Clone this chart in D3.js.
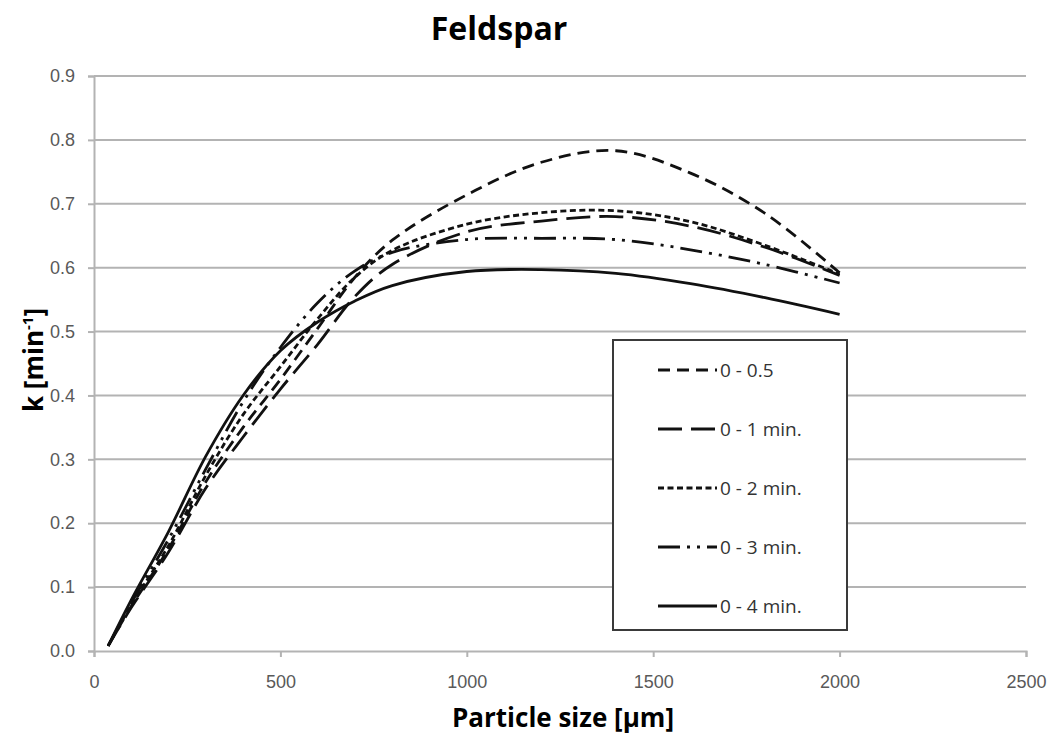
<!DOCTYPE html>
<html>
<head>
<meta charset="utf-8">
<script src="https://cdn.jsdelivr.net/npm/d3@7"></script>
<style>
  body { margin: 0; background: #fff; }
  svg { font-family: "Open Sans", "DejaVu Sans", sans-serif; }
  .tick text { fill: #595959; font-size: 18px; }
</style>
</head>
<body>
<svg id="chart" width="1057" height="738"></svg>
<script>
// particle size sample points (µm)
var sizes = [38, 100, 200, 300, 400, 500, 600, 700, 800, 1000, 1200, 1400, 1600, 1800, 2000];

// k values for each grinding interval
var k05 = [0.008, 0.07, 0.16, 0.265, 0.35, 0.425, 0.505, 0.585, 0.643, 0.714, 0.765, 0.783, 0.748, 0.685, 0.592];
var k1  = [0.008, 0.068, 0.155, 0.255, 0.335, 0.41, 0.48, 0.555, 0.605, 0.656, 0.673, 0.680, 0.665, 0.632, 0.588];
var k2  = [0.008, 0.072, 0.165, 0.275, 0.37, 0.445, 0.52, 0.585, 0.627, 0.668, 0.686, 0.689, 0.672, 0.635, 0.590];
var k3  = [0.008, 0.075, 0.175, 0.285, 0.39, 0.475, 0.545, 0.595, 0.624, 0.644, 0.646, 0.644, 0.628, 0.605, 0.576];
var k4  = [0.008, 0.08, 0.187, 0.305, 0.40, 0.47, 0.515, 0.548, 0.572, 0.594, 0.597, 0.591, 0.575, 0.553, 0.527];

var seriesNames = ["0 - 0.5", "0 - 1 min.", "0 - 2 min.", "0 - 3 min.", "0 - 4 min."];
var seriesValues = [k05, k1, k2, k3, k4];

var xTicks = [0, 500, 1000, 1500, 2000, 2500];
var yTicks = [0, 0.1, 0.2, 0.3, 0.4, 0.5, 0.6, 0.7, 0.8, 0.9];

(function () {
    var dashes = ["12,7", "24,9", "6,3.5", "22,7,3,7,3,7", null];

    var svg = d3.select("#chart");
    var plotL = 94, plotR = 1026, plotT = 76, plotB = 651;

    var x = d3.scaleLinear().domain([0, 2500]).range([plotL, plotR]);
    var y = d3.scaleLinear().domain([0, 0.9]).range([plotB, plotT]);

    // horizontal gridlines
    svg.append("g")
        .selectAll("line")
        .data(yTicks.slice(1))
        .join("line")
        .attr("x1", plotL).attr("x2", plotR)
        .attr("y1", d => y(d)).attr("y2", d => y(d))
        .attr("stroke", "#b3b3b3")
        .attr("stroke-width", 2);

    // y axis
    svg.append("g")
        .attr("transform", "translate(" + plotL + ",0)")
        .call(d3.axisLeft(y).tickValues(yTicks).tickFormat(d3.format(".1f")).tickSize(6).tickPadding(13))
        .call(g => g.selectAll("line, path").attr("stroke", "#b3b3b3").attr("stroke-width", 2));

    // x axis
    svg.append("g")
        .attr("transform", "translate(0," + plotB + ")")
        .call(d3.axisBottom(x).tickValues(xTicks).tickFormat(d3.format("d")).tickSize(6).tickPadding(18))
        .call(g => g.selectAll("line, path").attr("stroke", "#b3b3b3").attr("stroke-width", 2));

    // curves
    var line = d3.line()
        .x((d, i) => x(sizes[i]))
        .y(d => y(d))
        .curve(d3.curveCatmullRom.alpha(0.5));

    svg.append("g")
        .selectAll("path")
        .data(seriesValues)
        .join("path")
        .attr("d", d => line(d))
        .attr("fill", "none")
        .attr("stroke", "#111")
        .attr("stroke-width", 2.8)
        .attr("stroke-dasharray", (d, i) => dashes[i]);

    // legend
    var legend = svg.append("g").attr("transform", "translate(613,340)");
    legend.append("rect")
        .attr("width", 234).attr("height", 290)
        .attr("fill", "#fff")
        .attr("stroke", "#3a3a3a")
        .attr("stroke-width", 2);

    var rows = legend.selectAll("g.row")
        .data(seriesNames)
        .join("g")
        .attr("class", "row")
        .attr("transform", (d, i) => "translate(0," + (30 + i * 59) + ")");

    rows.append("line")
        .attr("x1", 45).attr("x2", 104)
        .attr("stroke", "#111")
        .attr("stroke-width", 2.8)
        .attr("stroke-dasharray", (d, i) => dashes[i]);

    rows.append("text")
        .attr("x", 107)
        .attr("dy", "0.35em")
        .attr("font-size", 19)
        .attr("fill", "#333")
        .text(d => d);

    // titles
    svg.append("text")
        .attr("x", 499).attr("y", 40)
        .attr("text-anchor", "middle")
        .attr("font-size", 32)
        .attr("font-weight", "bold")
        .text("Feldspar");

    svg.append("text")
        .attr("x", 563).attr("y", 727)
        .attr("text-anchor", "middle")
        .attr("font-size", 26)
        .attr("font-weight", "bold")
        .text("Particle size [µm]");

    var yl = svg.append("text")
        .attr("transform", "translate(43,360) rotate(-90)")
        .attr("text-anchor", "middle")
        .attr("font-size", 26)
        .attr("font-weight", "bold");
    yl.append("tspan").text("k [min");
    yl.append("tspan").attr("font-size", 15).attr("dy", -10).text("-1");
    yl.append("tspan").attr("dy", 10).text("]");
})();
</script>
</body>
</html>
